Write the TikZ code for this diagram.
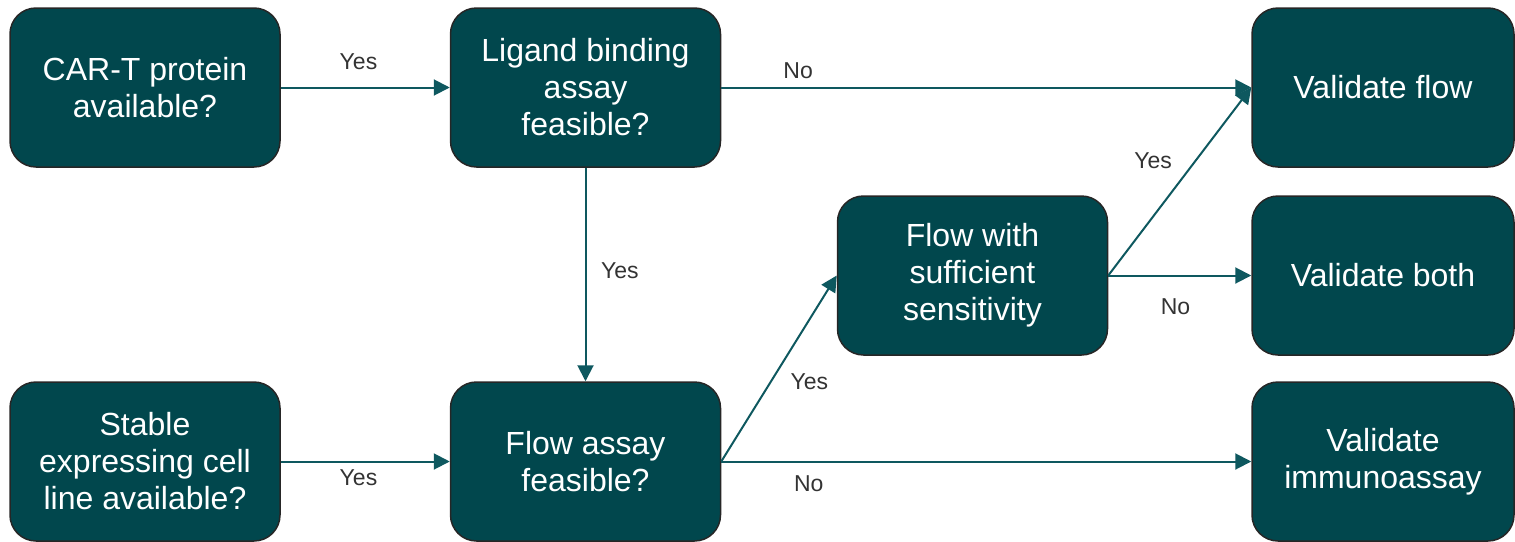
\documentclass[tikz,border=0pt]{standalone}
\usepackage{fontspec}
\setmainfont{Liberation Sans}
\usepackage{tikz}
\usetikzlibrary{arrows.meta}
\definecolor{boxteal}{RGB}{1,71,77}
\definecolor{arrteal}{RGB}{14,88,95}
\definecolor{lblgray}{RGB}{51,51,51}

\begin{document}
\begin{tikzpicture}[x=0.5pt, y=-0.5pt,
  box/.style={draw=black!85, line width=0.75pt, fill=boxteal, rounded corners=13pt,
    text=white, align=center, minimum width=135pt, minimum height=79.5pt,
    inner sep=2pt, font=\fontsize{16}{18.5}\selectfont},
  endbox/.style={box, minimum width=131pt},
  arr/.style={draw=arrteal, line width=1pt, -{Triangle[length=8pt,width=8pt]}},
  lbl/.style={text=lblgray, font=\fontsize{11.5}{13}\selectfont}]
\useasboundingbox (0,0) rectangle (1515,541);
% decision boxes
\node[box] (cart)   at (145,87.5)   {CAR-T protein\\available?};
\node[box] (ligand) at (585.5,87.5) {Ligand binding\\assay\\feasible?};
\node[box] (stable) at (145,461.5)  {Stable\\expressing cell\\line available?};
\node[box] (flowf)  at (585.5,461.5) {Flow assay\\feasible?};
\node[box] (sens)   at (972.5,275.5) {Flow with\\sufficient\\sensitivity};
% outcomes
\node[endbox] (vflow)   at (1383,87.5)  {Validate flow};
\node[endbox] (vboth)   at (1383,275.5) {Validate both};
\node[endbox] (vimmuno) at (1383,461.5) {Validate\\immunoassay};
% connectors
\draw[arr] (cart.east) -- (ligand.west) node[lbl, pos=.46, above=5pt] {Yes};
\draw[arr] (ligand.east) -- (vflow.west) node[lbl, pos=.145, above=0.5pt] {No};
\draw[arr] (ligand.south) -- (flowf.north) node[lbl, pos=.48, right=4pt] {Yes};
\draw[arr] (stable.east) -- (flowf.west) node[lbl, pos=.46, below=0.5pt] {Yes};
\draw[arr] (flowf.east) -- (sens.west) node[lbl, pos=.43, right=6pt] {Yes};
\draw[arr] (flowf.east) -- (vimmuno.west) node[lbl, pos=.165, below=3.5pt] {No};
\draw[arr] (sens.east) -- (vflow.west) node[lbl, pos=.61, left=8pt] {Yes};
\draw[arr] (sens.east) -- (vboth.west) node[lbl, pos=.47, below=8pt] {No};
\end{tikzpicture}
\end{document}
